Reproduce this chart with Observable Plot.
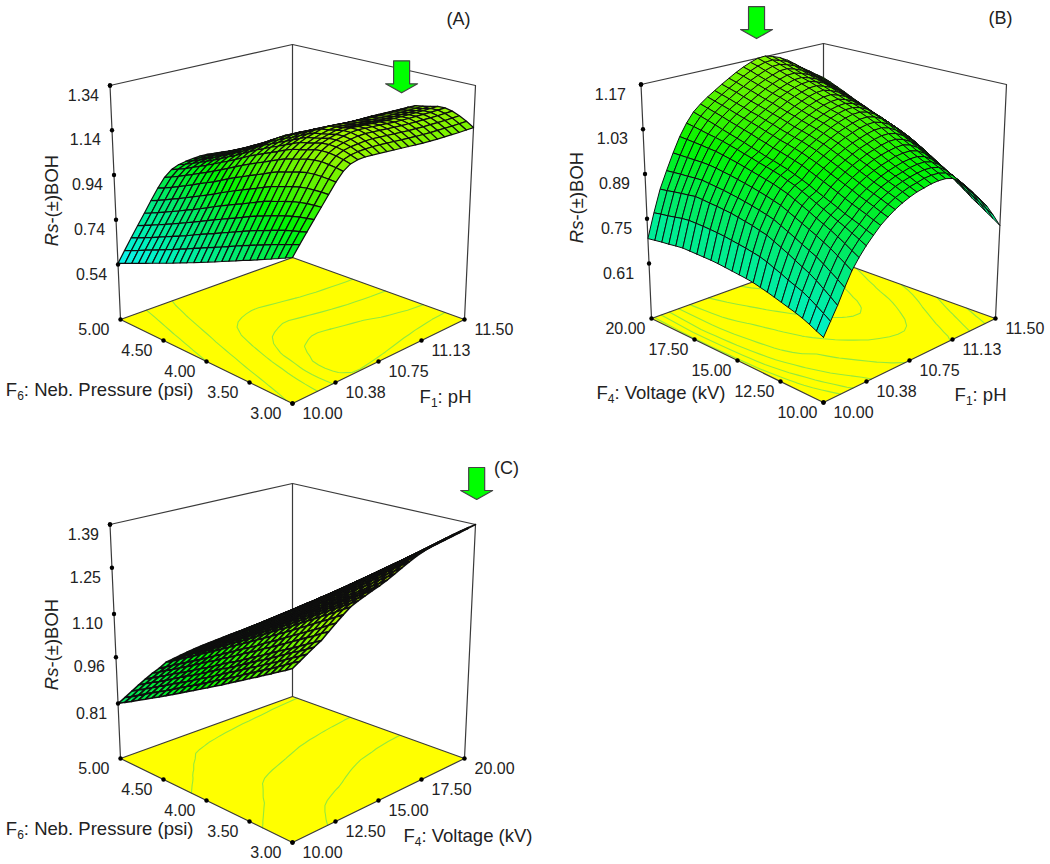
<!DOCTYPE html>
<html><head><meta charset="utf-8">
<style>html,body{margin:0;padding:0;background:#fff}svg{display:block}</style>
<script src="https://cdn.jsdelivr.net/npm/d3@7"></script>
<script src="https://cdn.jsdelivr.net/npm/@observablehq/plot@0.6"></script>
</head><body><div id="chart"></div>
<script>
// Response height Rs-(±)BOH, in thousandths. Rows: second factor low to high; columns: first factor low to high.
const surfaceA = [
[893,934,974,1014,1054,1095,1136,1170,1190,1197,1197,1194,1190,1186,1182,1178,1174,1170,1166,1163,1160,1158,1156,1154,1153,1152],
[879,923,965,1008,1051,1095,1138,1175,1198,1207,1210,1210,1209,1206,1202,1198,1194,1190,1186,1183,1180,1178,1176,1174,1173,1172],
[865,911,956,1002,1047,1093,1139,1178,1204,1216,1221,1223,1224,1223,1219,1215,1211,1207,1203,1200,1197,1195,1193,1191,1190,1189],
[851,899,947,994,1041,1090,1138,1180,1207,1221,1229,1233,1236,1236,1232,1228,1224,1220,1216,1213,1210,1208,1206,1204,1203,1202],
[837,887,936,985,1034,1084,1134,1177,1206,1222,1231,1237,1242,1243,1239,1235,1231,1227,1223,1220,1217,1215,1213,1211,1210,1209],
[823,874,924,974,1024,1075,1126,1171,1201,1218,1228,1235,1241,1242,1238,1234,1230,1226,1222,1219,1216,1214,1212,1210,1209,1208],
[809,861,911,962,1012,1064,1115,1160,1190,1208,1219,1226,1233,1234,1230,1226,1222,1218,1214,1211,1208,1206,1204,1202,1201,1200],
[796,848,899,950,1001,1053,1105,1150,1181,1199,1210,1218,1225,1227,1223,1219,1215,1211,1207,1204,1201,1199,1197,1195,1194,1193],
[782,835,886,938,990,1042,1095,1141,1172,1191,1203,1211,1219,1221,1217,1213,1209,1205,1201,1198,1195,1193,1191,1189,1188,1187],
[768,821,872,924,975,1028,1081,1126,1158,1176,1188,1197,1204,1206,1202,1198,1194,1190,1186,1183,1180,1178,1176,1174,1173,1172],
[754,806,858,909,960,1013,1065,1111,1142,1160,1172,1180,1187,1189,1185,1181,1177,1173,1169,1166,1163,1161,1159,1157,1156,1155],
[740,792,843,894,945,998,1050,1095,1126,1144,1155,1163,1170,1172,1168,1164,1160,1156,1152,1149,1146,1144,1142,1140,1139,1138],
[726,778,829,880,931,983,1035,1080,1111,1129,1140,1148,1155,1156,1152,1148,1144,1140,1136,1133,1130,1128,1126,1124,1123,1122],
[712,764,814,865,916,968,1019,1064,1095,1112,1123,1131,1138,1139,1135,1131,1127,1123,1119,1116,1113,1111,1109,1107,1106,1105],
[698,749,800,850,901,952,1004,1048,1079,1096,1107,1114,1121,1122,1118,1114,1110,1106,1102,1099,1096,1094,1092,1090,1089,1088],
[684,735,785,835,885,936,987,1030,1060,1077,1087,1094,1100,1101,1097,1093,1089,1085,1081,1078,1075,1073,1071,1069,1068,1067],
[670,720,770,819,868,918,969,1012,1041,1058,1067,1073,1078,1079,1075,1071,1067,1063,1059,1056,1053,1051,1049,1047,1046,1045],
[656,706,754,803,852,902,951,994,1023,1038,1047,1053,1058,1058,1054,1050,1046,1042,1038,1035,1032,1030,1028,1026,1025,1024],
[642,691,740,788,836,886,935,977,1006,1021,1029,1035,1039,1039,1035,1031,1027,1023,1019,1016,1013,1011,1009,1007,1006,1005],
[629,678,726,773,821,870,919,960,988,1003,1011,1015,1019,1019,1015,1011,1007,1003,999,996,993,991,989,987,986,985],
[615,663,711,758,805,854,902,944,971,985,993,997,1000,1000,996,992,988,984,980,977,974,972,970,968,967,966],
[601,649,696,743,790,838,886,927,954,968,975,979,982,982,978,974,970,966,962,959,956,954,952,950,949,948],
[587,635,681,728,775,823,870,911,938,951,958,962,965,964,960,956,952,948,944,941,938,936,934,932,931,930],
[573,620,667,713,760,807,854,895,921,935,941,944,947,946,942,938,934,930,926,923,920,918,916,914,913,912],
[559,606,653,699,745,793,840,880,907,920,926,930,932,931,927,923,919,915,911,908,905,903,901,899,898,897],
[545,592,639,685,731,779,826,866,893,906,912,916,918,917,913,909,905,901,897,894,891,889,887,885,884,883]];
const surfaceB = [
[625,662,699,742,782,812,838,860,881,897,911,922,931,938,942,946,947,945,937,920,895,867,838,808,770,729],
[634,676,715,757,796,824,849,868,889,905,919,931,940,947,951,956,957,955,947,931,906,879,850,821,784,744],
[644,689,730,771,809,837,859,877,898,914,928,939,949,956,961,965,967,965,958,941,917,890,862,833,797,758],
[653,702,745,785,822,849,870,885,906,922,936,948,957,965,970,975,977,976,968,952,928,902,874,846,811,773],
[660,713,758,798,833,860,879,893,914,930,944,956,966,974,980,985,987,986,978,962,939,913,886,858,824,787],
[666,721,768,808,844,870,889,903,923,940,954,966,976,984,990,996,998,997,989,974,952,926,899,872,839,804],
[672,729,779,818,854,880,899,912,933,949,963,975,986,995,1001,1006,1009,1009,1001,986,964,939,913,886,854,820],
[678,739,790,829,864,891,909,921,942,958,972,985,995,1005,1011,1017,1021,1020,1012,998,977,952,926,900,869,836],
[684,747,800,839,874,901,919,930,951,967,982,994,1005,1015,1022,1028,1032,1031,1024,1010,989,965,939,914,884,852],
[689,756,810,849,884,911,929,940,960,977,991,1004,1015,1025,1032,1039,1043,1043,1035,1021,1001,978,953,928,899,868],
[694,763,820,859,894,921,939,949,969,986,1000,1013,1025,1035,1043,1050,1054,1054,1046,1033,1014,990,966,942,914,885],
[697,767,825,865,900,928,946,957,978,994,1009,1022,1033,1044,1052,1059,1064,1064,1057,1044,1025,1002,978,955,928,899],
[699,771,831,870,906,935,954,965,985,1002,1016,1029,1041,1052,1061,1068,1073,1073,1066,1053,1035,1012,989,966,940,912],
[701,774,835,875,911,940,960,971,991,1008,1023,1036,1048,1059,1068,1076,1081,1081,1074,1062,1043,1021,998,976,950,923],
[703,777,839,879,916,945,965,977,997,1014,1028,1042,1054,1065,1074,1082,1087,1088,1081,1069,1051,1029,1006,984,959,933],
[705,780,843,883,920,950,970,982,1002,1019,1034,1047,1060,1071,1081,1089,1094,1095,1087,1076,1058,1037,1014,993,968,943],
[706,782,845,886,924,955,976,989,1009,1026,1040,1054,1067,1078,1088,1096,1102,1103,1095,1084,1067,1046,1024,1003,979,954],
[706,783,847,889,928,960,981,995,1015,1032,1047,1061,1073,1085,1095,1104,1110,1111,1103,1092,1075,1055,1033,1012,989,966],
[706,784,848,891,931,964,987,1002,1022,1039,1053,1067,1080,1093,1103,1111,1118,1119,1111,1101,1084,1064,1042,1022,1000,977],
[706,784,850,893,934,968,992,1008,1028,1045,1060,1074,1087,1100,1110,1119,1125,1127,1119,1109,1093,1073,1052,1032,1010,988],
[706,784,851,895,936,972,997,1014,1034,1051,1065,1080,1093,1106,1116,1125,1132,1133,1126,1116,1100,1080,1060,1040,1019,998],
[703,781,847,893,936,973,1001,1020,1040,1057,1072,1086,1100,1113,1124,1133,1140,1141,1134,1124,1109,1089,1069,1050,1030,1009],
[699,776,843,890,935,975,1004,1027,1047,1064,1078,1093,1107,1120,1131,1140,1148,1149,1142,1132,1117,1098,1078,1060,1040,1021],
[696,771,839,888,934,976,1008,1033,1053,1070,1085,1100,1113,1127,1138,1148,1156,1157,1150,1141,1126,1107,1088,1070,1051,1032],
[692,767,834,885,933,977,1012,1039,1059,1076,1091,1106,1120,1134,1146,1156,1163,1165,1158,1149,1135,1116,1097,1080,1061,1043],
[688,762,830,882,932,978,1015,1045,1065,1082,1097,1112,1126,1140,1152,1162,1170,1172,1165,1156,1142,1124,1105,1088,1070,1053]];
const surfaceC = [
[1149,1162,1175,1188,1200,1218,1236,1253,1269,1279,1287,1295,1302,1311,1322,1333,1344,1354,1362,1368,1373,1378,1382,1385,1388,1390],
[1135,1149,1161,1174,1186,1205,1222,1239,1254,1264,1272,1280,1286,1295,1306,1316,1327,1337,1344,1350,1355,1360,1364,1367,1370,1372],
[1122,1135,1148,1160,1173,1190,1207,1224,1239,1249,1257,1264,1271,1279,1290,1300,1310,1319,1327,1333,1337,1342,1346,1349,1352,1354],
[1108,1121,1134,1148,1159,1177,1193,1210,1224,1234,1241,1249,1255,1263,1273,1283,1293,1302,1309,1315,1319,1324,1328,1331,1334,1336],
[1095,1107,1120,1134,1145,1163,1179,1196,1210,1219,1226,1233,1240,1247,1257,1267,1276,1285,1292,1297,1302,1306,1310,1313,1316,1318],
[1081,1094,1107,1120,1132,1149,1165,1181,1195,1204,1211,1218,1224,1232,1241,1250,1259,1267,1274,1279,1284,1288,1292,1295,1298,1300],
[1068,1081,1093,1106,1119,1135,1151,1167,1180,1189,1196,1202,1208,1216,1225,1233,1242,1250,1257,1262,1266,1270,1274,1277,1280,1282],
[1054,1067,1080,1092,1105,1121,1137,1152,1165,1173,1180,1187,1193,1200,1208,1217,1225,1233,1239,1244,1248,1253,1256,1259,1261,1263],
[1041,1053,1067,1080,1091,1107,1122,1138,1150,1158,1165,1171,1177,1184,1192,1200,1208,1215,1222,1226,1230,1235,1238,1241,1243,1245],
[1027,1039,1053,1066,1078,1094,1108,1124,1135,1143,1150,1156,1162,1168,1176,1184,1191,1198,1204,1209,1212,1217,1220,1223,1225,1227],
[1013,1026,1039,1052,1064,1079,1094,1109,1121,1128,1135,1141,1146,1152,1160,1167,1174,1181,1186,1191,1195,1199,1202,1205,1207,1209],
[1000,1013,1026,1038,1050,1066,1079,1095,1106,1113,1119,1125,1130,1136,1143,1150,1157,1163,1169,1173,1177,1181,1184,1187,1189,1191],
[986,999,1012,1024,1036,1052,1065,1081,1091,1098,1104,1110,1115,1120,1127,1134,1140,1146,1151,1155,1159,1163,1166,1169,1171,1173],
[973,985,998,1012,1024,1038,1052,1066,1076,1083,1089,1094,1099,1105,1111,1117,1124,1129,1134,1138,1141,1145,1148,1150,1153,1155],
[959,971,984,998,1010,1024,1038,1052,1061,1068,1074,1079,1084,1089,1095,1101,1107,1112,1116,1120,1123,1127,1130,1132,1135,1137],
[946,958,971,984,996,1011,1023,1038,1046,1053,1058,1063,1068,1073,1078,1084,1090,1094,1099,1102,1105,1109,1112,1114,1117,1119],
[932,945,957,970,982,996,1009,1023,1032,1038,1043,1048,1052,1057,1062,1067,1073,1077,1081,1084,1088,1091,1094,1096,1099,1101],
[918,931,943,956,969,983,995,1009,1017,1023,1028,1033,1037,1041,1046,1051,1056,1060,1063,1067,1070,1073,1076,1078,1081,1083],
[905,917,930,944,955,969,980,995,1002,1008,1013,1017,1021,1025,1030,1034,1039,1042,1046,1049,1052,1055,1058,1060,1063,1065],
[891,903,917,930,941,955,966,980,987,992,997,1002,1006,1009,1013,1018,1022,1025,1028,1031,1034,1038,1040,1042,1044,1046],
[878,890,903,916,928,941,952,966,972,977,982,986,990,993,997,1001,1005,1008,1011,1014,1016,1020,1022,1024,1026,1028],
[864,877,890,902,915,927,938,951,957,962,967,971,974,978,981,984,988,990,993,996,998,1002,1004,1006,1008,1010],
[851,863,876,888,901,913,924,937,943,947,952,955,959,962,965,968,971,973,976,978,981,984,986,988,990,992],
[837,849,862,876,887,900,910,923,928,932,936,940,943,946,948,951,954,956,958,960,963,966,968,970,972,974],
[824,835,849,862,874,885,895,908,913,917,921,924,928,930,932,935,937,938,941,943,945,948,950,952,954,956],
[810,822,835,848,860,872,881,894,898,902,906,909,912,914,916,918,920,921,923,925,927,930,932,934,936,938]];

const zTicksA = [1.34,1.14,0.94,0.74,0.54];
const zTicksB = [1.17,1.03,0.89,0.75,0.61];
const zTicksC = [1.39,1.25,1.10,0.96,0.81];
const pHTicks = ["10.00","10.38","10.75","11.13","11.50"];
const pressureTicks = ["3.00","3.50","4.00","4.50","5.00"];
const voltageTicks = ["10.00","12.50","15.00","17.50","20.00"];
const contourLevelsA = [0.72,0.88,1.04,1.13,1.2];
const contourLevelsB = [0.72,0.79,0.86,0.93,1.0,1.07,1.14];
const contourLevelsC = [0.95,1.09,1.22];
const arrowOutline = [[-8,-32],[8,-32],[8,-9],[16,-9],[0,0],[-16,-9],[-8,-9],[-8,-32]];
const colorStops = [0.55,0.65,0.8,0.97,1.08,1.25,1.4];
const colorRange = ["#10f4f4","#00f0c0","#00ea70","#00f400","#50f400","#a8f400","#e0f800"];

const panels = [
 {id:"A",ox:292,oy:403,grid:surfaceA,zt:zTicksA,uT:pHTicks,vT:pressureTicks,levels:contourLevelsA,zdx:-11,vdx:-11,udx:10,
  arrow:{u:1,v:0.4,z:1.23},
  titles:[{x:193,y:390,a:"end",t:"F6: Neb. Pressure (psi)"},{x:471,y:397,a:"end",t:"F1: pH"}],
  rs:{x:52,y:200},tag:{x:458,y:19,t:"(A)"}},
 {id:"B",ox:823,oy:402,grid:surfaceB,zt:zTicksB,uT:pHTicks,vT:voltageTicks,levels:contourLevelsB,zdx:-15,vdx:-6,udx:10,
  arrow:{u:0.635,v:1,z:1.236},
  titles:[{x:725,y:393,a:"end",t:"F4: Voltage (kV)"},{x:1006,y:395,a:"end",t:"F1: pH"}],
  rs:{x:577,y:197},tag:{x:1000,y:18,t:"(B)"}},
 {id:"C",ox:292,oy:842,grid:surfaceC,zt:zTicksC,uT:voltageTicks,vT:pressureTicks,levels:contourLevelsC,zdx:-11,vdx:-11,udx:10,
  arrow:{u:1,v:0,z:1.471},
  titles:[{x:193,y:829,a:"end",t:"F6: Neb. Pressure (psi)"},{x:532,y:836,a:"end",t:"F4: Voltage (kV)"}],
  rs:{x:52,y:644},tag:{x:506,y:468,t:"(C)"}}
];

const bil = (u,v,f,r,l,b) => (1-u)*(1-v)*f + u*(1-v)*r + (1-u)*v*l + u*v*b;
function project(p,u,v,w){
  return {
    x: p.ox + bil(u,v,0,172,-172,0) + w*bil(u,v,0,11,-10.5,0),
    y: p.oy + bil(u,v,0,-84,-84,-146) - w*bil(u,v,255,234,234,213)
  };
}
const heightOf = (p,z) => 0.235 + (z - p.zt[4])/(p.zt[0]-p.zt[4])*0.765;

const floorPts=[], framePts=[], contourPts=[], quadPts=[], zDots=[], floorDots=[], zLabels=[], uLabels=[], vLabels=[], arrowPts=[];
const cubeEdges = [[[0,1,0],[0,1,1]],[[1,1,0],[1,1,1]],[[1,0,0],[1,0,1]],[[0,1,1],[1,1,1]],[[1,1,1],[1,0,1]],
  [[0,0,0],[1,0,0]],[[1,0,0],[1,1,0]],[[1,1,0],[0,1,0]],[[0,1,0],[0,0,0]]];
for (const p of panels){
  for (const [u,v] of [[0,0],[1,0],[1,1],[0,1],[0,0]]) floorPts.push({...project(p,u,v,0),id:p.id});
  cubeEdges.forEach((e,k)=>e.forEach(([u,v,w])=>framePts.push({...project(p,u,v,w),id:p.id+k})));

  const n = p.grid.length;
  const flat = p.grid.flat().map(d=>d/1000);
  const cs = d3.contours().size([n,n]).thresholds(p.levels)(flat);
  let cid=0;
  for (const c of cs) for (const poly of c.coordinates) for (const ring of poly){
    let run=[];
    const flush=()=>{ if(run.length>1){cid++; run.forEach(q=>contourPts.push({...q,id:p.id+"c"+cid}));} run=[]; };
    for (const [x,y] of ring){
      if (x<=0||y<=0||x>=n||y>=n){flush();continue;}
      const u=Math.min(1,Math.max(0,(x-0.5)/(n-1))), v=Math.min(1,Math.max(0,(y-0.5)/(n-1)));
      run.push(project(p,u,v,0));
    }
    flush();
  }

  const g=(i,j)=>p.grid[j][i]/1000;
  for (let j=n-2;j>=0;j--) for (let i=n-2;i>=0;i--){
    const level=(g(i,j)+g(i+1,j)+g(i,j+1)+g(i+1,j+1))/4, id=p.id+"q"+j+"_"+i;
    for (const [a,b] of [[i,j],[i+1,j],[i+1,j+1],[i,j+1],[i,j]])
      quadPts.push({...project(p,a/(n-1),b/(n-1),heightOf(p,g(a,b))),id,level,panel:p.id});
  }

  p.zt.forEach(z=>{const q=project(p,0,1,heightOf(p,z));zDots.push(q);zLabels.push({...q,x:q.x+p.zdx,t:z.toFixed(2)});});
  zDots.push(project(p,0,1,1));
  p.uT.forEach((t,k)=>{const q=project(p,k/4,0,0);floorDots.push(q);uLabels.push({...q,x:q.x+p.udx,t});});
  p.vT.forEach((t,k)=>{const q=project(p,0,k/4,0);floorDots.push(q);vLabels.push({...q,x:q.x+p.vdx,t});});

  const tip=project(p,p.arrow.u,p.arrow.v,heightOf(p,p.arrow.z));
  arrowOutline.forEach(([dx,dy])=>arrowPts.push({x:tip.x+dx,y:tip.y+dy,id:p.id}));
}
const titles=panels.flatMap(p=>p.titles);
const rsTitles=panels.map(p=>({...p.rs,t:"Rs-(±)BOH"}));
const tags=panels.map(p=>p.tag);
const font="Liberation Sans, Arial, sans-serif", textFill="#222";
const meshMark=(id,w)=>Plot.line(quadPts.filter(d=>d.panel===id),{x:"x",y:"y",z:"id",fill:"level",stroke:"#0e0e0e",strokeWidth:w,strokeLinejoin:"round"});

const chart = Plot.plot({
  width:1050,height:864,margin:0,
  style:{background:"#fff",fontFamily:font},
  x:{domain:[0,1050],range:[0,1050],axis:null},
  y:{domain:[0,864],range:[0,864],axis:null},
  color:{type:"linear",domain:colorStops,range:colorRange,legend:false},
  marks:[
    Plot.line(floorPts,{x:"x",y:"y",z:"id",fill:"#ffff00",stroke:"none"}),
    Plot.line(contourPts,{x:"x",y:"y",z:"id",stroke:"#94ea3c",strokeWidth:1.1}),
    Plot.line(framePts,{x:"x",y:"y",z:"id",stroke:"#3a3a3a",strokeWidth:1.2}),
    meshMark("A",1.2),
    meshMark("B",1),
    meshMark("C",1.6),
    Plot.dot(zDots,{x:"x",y:"y",r:2.2,fill:"#000"}),
    Plot.dot(floorDots,{x:"x",y:"y",r:2.2,fill:"#000"}),
    Plot.line(arrowPts,{x:"x",y:"y",z:"id",fill:"#00ff00",stroke:"#444",strokeWidth:1.2}),
    Plot.text(zLabels,{x:"x",y:"y",text:"t",dy:10,textAnchor:"end",fontSize:16,fill:textFill}),
    Plot.text(vLabels,{x:"x",y:"y",text:"t",dy:10,textAnchor:"end",fontSize:16,fill:textFill}),
    Plot.text(uLabels,{x:"x",y:"y",text:"t",dy:10,textAnchor:"start",fontSize:16,fill:textFill}),
    Plot.text(titles,{x:"x",y:"y",text:"t",textAnchor:"end",fontSize:18.5,fill:textFill}),
    Plot.text(rsTitles,{x:"x",y:"y",text:"t",rotate:-90,fontSize:18.5,fill:textFill}),
    Plot.text(tags,{x:"x",y:"y",text:"t",fontSize:18,fill:textFill})
  ]
});
chart.querySelectorAll("text").forEach(t=>{
  const s=t.textContent;
  if (s.startsWith("Rs-")) t.innerHTML='<tspan font-style="italic">Rs</tspan>-(±)BOH';
  else if (/^F\d:/.test(s)) t.innerHTML='F<tspan dy="4" font-size="12">'+s[1]+'</tspan><tspan dy="-4">'+s.slice(2)+'</tspan>';
});
document.getElementById("chart").append(chart);
</script></body></html>
